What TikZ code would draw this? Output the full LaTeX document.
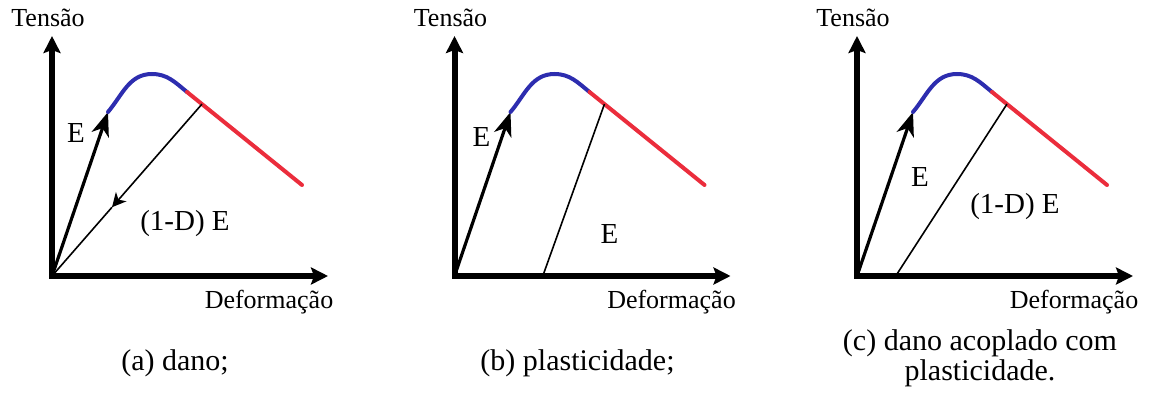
\documentclass[tikz,border=0pt]{standalone}
\usepackage{fontspec}
\setmainfont{Liberation Serif}
\usepackage{xcolor}
\usepackage{tikz}
\usetikzlibrary{arrows.meta, calc}

\definecolor{loadblue}{RGB}{45,45,175}
\definecolor{softred}{RGB}{235,45,60}

\tikzset{
  axisline/.style={line width=3pt, line join=miter,
    {Stealth[length=8.5pt,width=8.5pt,inset=1.5pt]}-{Stealth[length=8.5pt,width=8.5pt,inset=1.5pt]}},
  elastic/.style={line width=1.6pt, -{Stealth[length=12pt,width=9pt,inset=3.5pt]}},
  unload/.style={line width=0.8pt},
  axlabel/.style={inner sep=0pt, font=\fontsize{13}{15}\selectfont},
  modlabel/.style={inner sep=0pt, font=\fontsize{14.5}{17}\selectfont},
  subcap/.style={inner sep=0pt, font=\fontsize{15}{18}\selectfont},
}

\begin{document}
\begin{tikzpicture}[x=0.5pt, y=0.5pt]
  \useasboundingbox (0,0) rectangle (1149,392);

  % Common parts of the three graphs
  \foreach \p/\dx in {a/52, b/454.5, c/857} {
    \begin{scope}[shift={(\dx,116)}]
      \coordinate (o\p) at (0,0);
      \coordinate (ytip\p) at (0,240);
      \coordinate (xtip\p) at (276,0);
      \coordinate (s\p) at (56,164);   % end of elastic branch
      \coordinate (pk\p) at (100,202);
      \coordinate (t\p) at (135,184);
      \coordinate (r\p) at (250,91);
      \coordinate (u\p) at ($(t\p)!0.13!(r\p)$);

      \draw[axisline] (ytip\p) -- (o\p) -- (xtip\p);
      \draw[elastic] (o\p) -- (s\p);
      \draw[loadblue, line width=2pt, line cap=round]
        (s\p) to[out=50,in=180] (pk\p) to[out=0,in=141] (t\p);
      \draw[softred, line width=2pt, line cap=round] (t\p) -- (r\p);

      \node[axlabel, anchor=base] (tens\p) at (-4,249) {Tensão};
      \node[axlabel, anchor=base] (def\p) at (217,-32) {Deformação};
    \end{scope}
  }

  % (a) dano
  \coordinate (ma) at ($(ua)!0.6!(oa)$);
  \draw[unload, -{Stealth[length=7pt,width=7pt,inset=2pt]}] (ua) -- (ma);
  \draw[unload] (ma) -- (oa);
  \node[modlabel] (ea) at ($(oa)+(24,143)$) {E};
  \node[modlabel] (da) at ($(oa)+(133,52)$) {(1-D) E};
  \node[subcap, anchor=base] (capa) at ($(oa)+(123,-94)$) {(a) dano;};

  % (b) plasticidade
  \coordinate (fb) at ($(ob)+(89,2)$);
  \draw[unload] (ub) -- (fb);
  \node[modlabel] (eb) at ($(ob)+(27,139)$) {E};
  \node[modlabel] (eb2) at ($(ob)+(155,42)$) {E};
  \node[subcap, anchor=base] (capb) at ($(ob)+(123,-94)$) {(b) plasticidade;};

  % (c) dano acoplado com plasticidade
  \coordinate (fc) at ($(oc)+(40,2)$);
  \draw[unload] (uc) -- (fc);
  \node[modlabel] (ec) at ($(oc)+(63,99)$) {E};
  \node[modlabel] (dc) at ($(oc)+(158,69)$) {(1-D) E};
  \node[subcap, anchor=base] (capc) at ($(oc)+(123,-74)$) {(c) dano acoplado com};
  \node[subcap, anchor=base] (capc2) at ($(oc)+(123,-104)$) {plasticidade.};
\end{tikzpicture}
\end{document}
